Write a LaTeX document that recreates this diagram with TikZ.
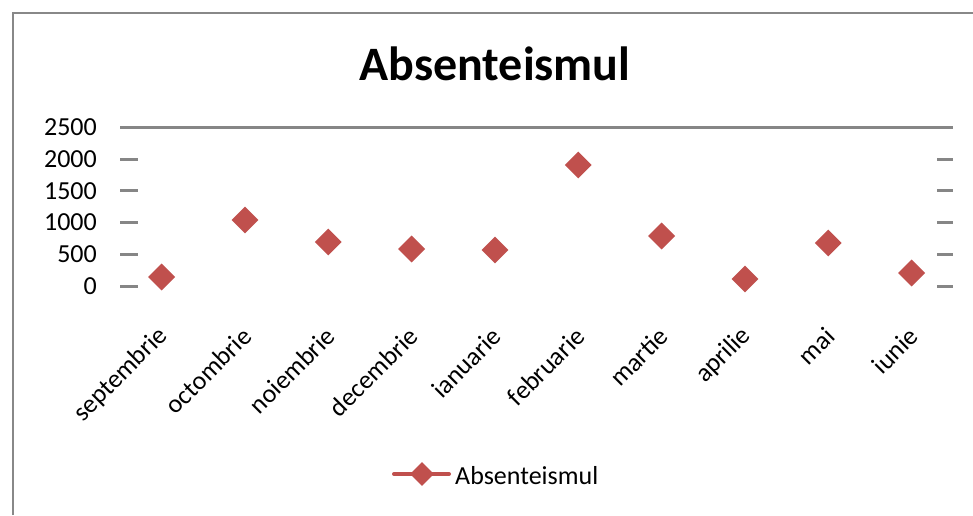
\documentclass[tikz,border=0pt]{standalone}
\usepackage{fontspec}
\setmainfont{Carlito}
\usetikzlibrary{shapes.geometric}
\definecolor{framegray}{HTML}{888888}
\definecolor{axisgray}{HTML}{868686}
\definecolor{serred}{HTML}{C0504D}
\tikzset{
  frameline/.style={draw=framegray, line width=2.5pt},
  gridl/.style={draw=axisgray, line width=3pt},
  tickl/.style={draw=axisgray, line width=3pt},
  ylab/.style={anchor=east, inner sep=0pt, font=\fontsize{26}{30}\selectfont},
  xlab/.style={anchor=east, rotate=45, inner sep=0pt, font=\fontsize{26}{30}\selectfont},
  mk/.style={diamond, fill=serred, draw=none, minimum width=27pt, minimum height=27pt, inner sep=0pt},
  legline/.style={draw=serred, line width=4pt, line cap=round},
}
\begin{document}
\begin{tikzpicture}[x=1pt, y=-1pt]
\useasboundingbox (0,0) rectangle (973,515);
\fill[white] (0,0) rectangle (973,515);
% frame
\coordinate (fbl) at (13,515);
\coordinate (ftl) at (13,13);
\coordinate (ftr) at (973,13);
\draw[frameline] (fbl) -- (ftl) -- (ftr);
% title
\node[anchor=base, inner sep=0pt, font=\fontsize{48}{56}\selectfont\bfseries] (title) at (495,80) {Absenteismul};
% gridline at 2500
\coordinate (gl) at (120,127);
\coordinate (gr) at (953,127);
\draw[gridl] (gl) -- (gr);
% ticks and labels
\foreach \v/\yy in {0/286,500/254,1000/222,1500/190.7,2000/159}{
  \coordinate (tl\v) at (120,\yy);
  \coordinate (tle\v) at (138,\yy);
  \coordinate (tr\v) at (937,\yy);
  \coordinate (tre\v) at (953,\yy);
  \draw[tickl] (tl\v) -- (tle\v);
  \draw[tickl] (tr\v) -- (tre\v);
}
\foreach \v/\yy in {0/286,500/254,1000/222,1500/190.7,2000/159,2500/127}{
  \node[ylab] (yl\v) at (97,\yy) {\v};
}
% data markers
\foreach \i/\xx/\yy in {1/161.6/277,2/245/220,3/328.3/242,4/411.6/249,5/495/250,6/578.3/165,7/661.6/236,8/745/279,9/828.3/243,10/911.6/273}{
  \node[mk] (p\i) at (\xx,\yy) {};
}
% category labels
\foreach \i/\xx/\t in {1/161.6/septembrie,2/245/octombrie,3/328.3/noiembrie,4/411.6/decembrie,5/495/ianuarie,6/578.3/februarie,7/661.6/martie,8/745/aprilie,9/828.3/mai,10/911.6/iunie}{
  \node[xlab] (c\i) at (\xx+2,332) {\t};
}
% legend
\coordinate (la) at (394,474);
\coordinate (lb) at (449,474);
\draw[legline] (la) -- (lb);
\node[mk, minimum width=24pt, minimum height=24pt] (lm) at (422,474) {};
\node[anchor=west, inner sep=0pt, font=\fontsize{26}{30}\selectfont] (lt) at (455,476) {Absenteismul};
\end{tikzpicture}
\end{document}
